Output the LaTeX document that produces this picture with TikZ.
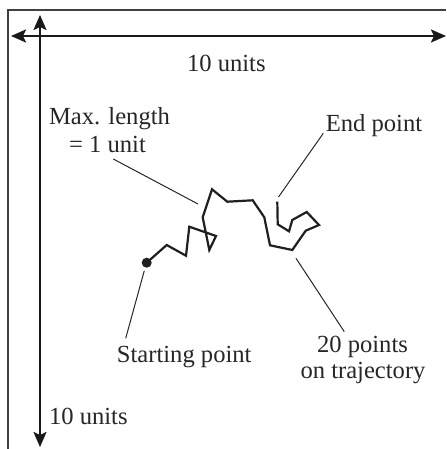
\documentclass[tikz,border=0pt]{standalone}
\usepackage{fontspec}
\setmainfont{Liberation Serif}
\usetikzlibrary{arrows.meta}
\begin{document}
\begin{tikzpicture}[x=0.5pt,y=-0.5pt,
  lbl/.style={inner sep=0pt, anchor=base, font=\fontsize{12.3pt}{14pt}\selectfont, text=black!85},
  dimline/.style={line width=1.1pt, draw=black!90, {Stealth[length=7.5pt,width=6.5pt,inset=1.5pt]}-{Stealth[length=7.5pt,width=6.5pt,inset=1.5pt]}},
  leader/.style={line width=0.5pt, draw=black!85},
  traj/.style={line width=1.1pt, draw=black!88, line join=miter},
  frameline/.style={line width=0.8pt, draw=black!75}]
\useasboundingbox (0,0) rectangle (446,449);
% frame
\draw[frameline] (8,449) -- (8,10) -- (446,10);
% dimension arrows
\coordinate (hl) at (11,36);
\coordinate (hr) at (446,36);
\coordinate (vt) at (40,15);
\coordinate (vb) at (40,447);
\draw[dimline] (hl) -- (hr);
\draw[dimline] (vt) -- (vb);
% trajectory points
\coordinate (p1) at (146.7,262.7);
\coordinate (p2) at (166.7,245);
\coordinate (p3) at (186,255.7);
\coordinate (p4) at (189.3,226.7);
\coordinate (p5) at (216,236);
\coordinate (p6) at (209.3,250);
\coordinate (p7) at (202.7,217.3);
\coordinate (p8) at (212,189.3);
\coordinate (p9) at (227.3,201.7);
\coordinate (p10) at (252.7,200.3);
\coordinate (p11) at (264.3,217.3);
\coordinate (p12) at (270,245.3);
\coordinate (p13) at (292.3,250);
\coordinate (p14) at (305.7,230.7);
\coordinate (p15) at (319,225);
\coordinate (p16) at (306.7,212);
\coordinate (p17) at (292.3,220);
\coordinate (p18) at (289,231.3);
\coordinate (p19) at (277.7,224.3);
\coordinate (p20) at (277.3,201.7);
\draw[traj] (p1) -- (p2) -- (p3) -- (p4) -- (p5) -- (p6) -- (p7) -- (p8) -- (p9) -- (p10)
  -- (p11) -- (p12) -- (p13) -- (p14) -- (p15) -- (p16) -- (p17) -- (p18) -- (p19) -- (p20);
\node[circle, fill=black!88, inner sep=0pt, minimum size=5pt] (start) at (p1) {};
% labels
\node[lbl] (top) at (226.3,72) {10 units};
\node[lbl] (left) at (88.3,424) {10 units};
\node[lbl] (maxa) at (109.5,125) {Max. length};
\node[lbl] (maxb) at (107.5,152.7) {= 1 unit};
\node[lbl] (endl) at (374,131.7) {End point};
\node[lbl] (startl) at (184.2,362.7) {Starting point};
\node[lbl] (twa) at (362.5,352.7) {20 points};
\node[lbl] (twb) at (363,378.3) {on trajectory};
% leader lines
\coordinate (maxs) at (113.3,159);
\coordinate (maxe) at (198,204);
\coordinate (ends) at (323.3,133.3);
\coordinate (ende) at (278.5,197);
\coordinate (sts) at (125.7,338.3);
\coordinate (ste) at (144.3,270.7);
\coordinate (tws) at (344.3,331.7);
\coordinate (twe) at (296,258.3);
\draw[leader] (maxs) -- (maxe);
\draw[leader] (ends) -- (ende);
\draw[leader] (sts) -- (ste);
\draw[leader] (tws) -- (twe);
\end{tikzpicture}
\end{document}
